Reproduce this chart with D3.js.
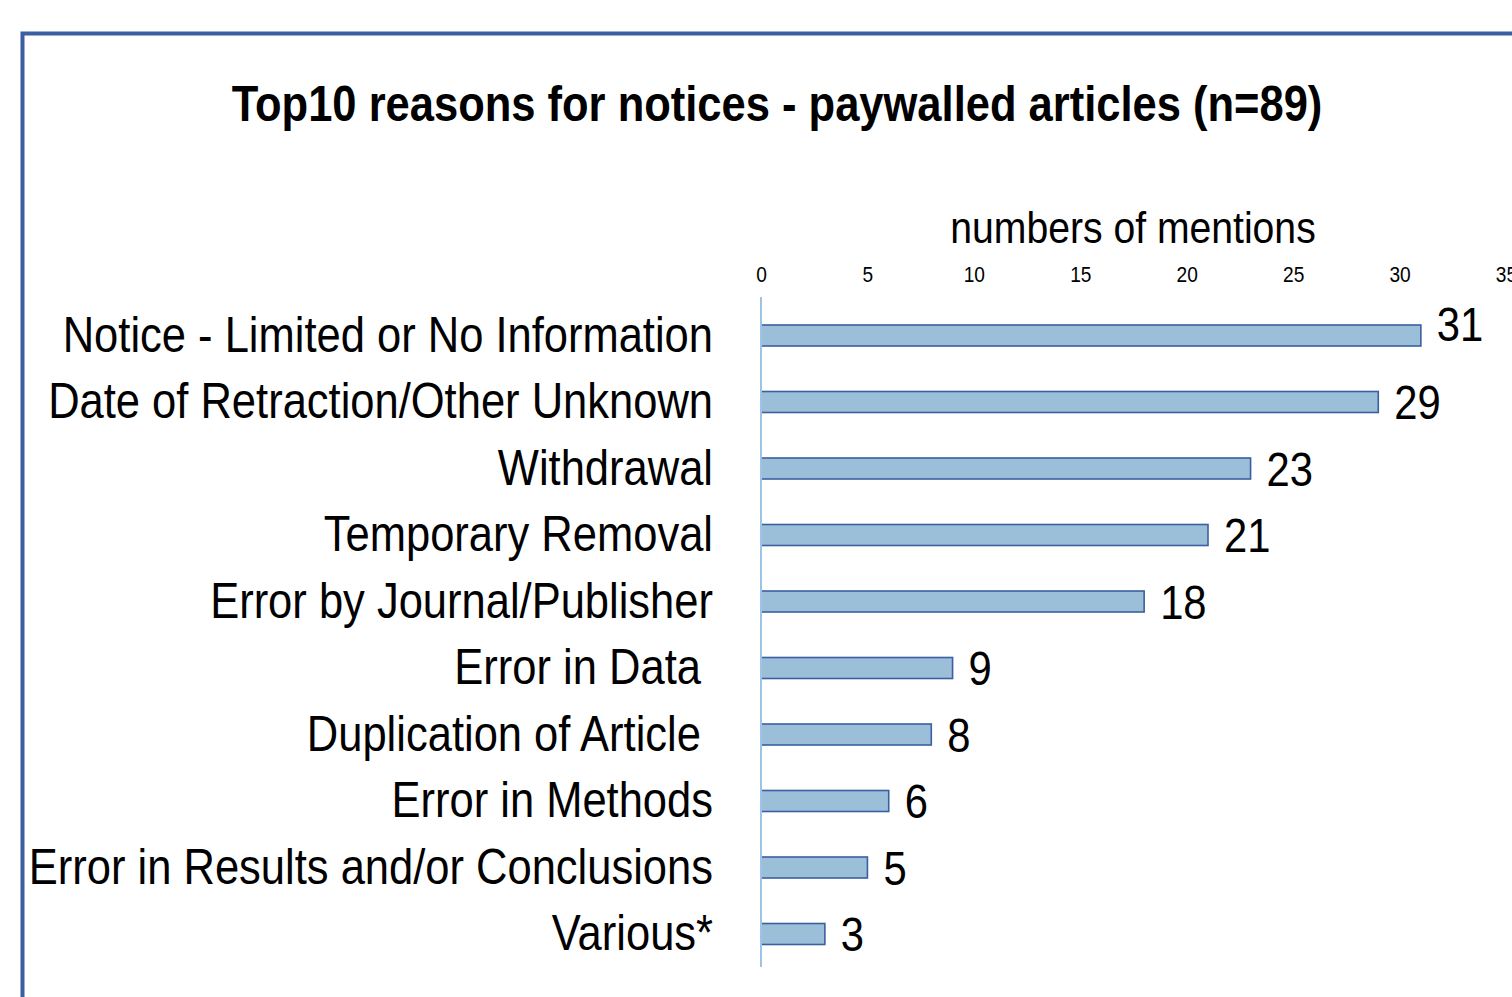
<!DOCTYPE html>
<html>
<head>
<meta charset="utf-8">
<script src="https://cdn.jsdelivr.net/npm/d3@7"></script>
<style>
  body { margin: 0; background: #fff; }
  text { font-family: "Liberation Sans", Arial, sans-serif; }
</style>
</head>
<body>
<div id="vis"></div>
<script>
// data
const reasons = [
  "Notice - Limited or No Information",
  "Date of Retraction/Other Unknown",
  "Withdrawal",
  "Temporary Removal",
  "Error by Journal/Publisher",
  "Error in Data ",
  "Duplication of Article ",
  "Error in Methods",
  "Error in Results and/or Conclusions",
  "Various*"
];
const mentions = [31, 29, 23, 21, 18, 9, 8, 6, 5, 3];
const tickValues = [0, 5, 10, 15, 20, 25, 30, 35];

const data = reasons.map((r, i) => ({ reason: r, value: mentions[i] }));

const W = 1512, H = 997;
// no narrow font installed, so squeeze Liberation Sans sideways
const narrow = 0.87;

const svg = d3.select("#vis")
  .append("svg")
    .attr("width", W)
    .attr("height", H);

// frame
svg.append("rect")
  .attr("x", 22.5).attr("y", 33.5)
  .attr("width", W + 20).attr("height", H + 20)
  .attr("fill", "none")
  .attr("stroke", "#3b5fa0")
  .attr("stroke-width", 4);

// title
svg.append("text")
  .attr("transform", `translate(777,121) scale(${narrow},1)`)
  .attr("text-anchor", "middle")
  .style("font-size", "50px")
  .style("font-weight", "bold")
  .text("Top10 reasons for notices - paywalled articles (n=89)");

// scales
const x = d3.scaleLinear()
  .domain([0, 35])
  .range([761, 1506]);

const y = d3.scalePoint()
  .domain(reasons)
  .range([302.25, 967.25])
  .padding(0.5);

const barH = 21;

// axis title
svg.append("text")
  .attr("transform", `translate(1133,243) scale(${narrow},1)`)
  .attr("text-anchor", "middle")
  .style("font-size", "45px")
  .text("numbers of mentions");

// top tick labels
const xAxis = svg.append("g")
  .attr("transform", "translate(0,282)")
  .call(d3.axisTop(x).tickValues(tickValues).tickSize(0).tickPadding(0));
xAxis.select(".domain").remove();
xAxis.selectAll("text")
  .attr("y", 0)
  .attr("dy", 0)
  .attr("transform", `scale(${narrow},1)`)
  .style("font-family", "\"Liberation Sans\", Arial, sans-serif")
  .style("font-size", "22px")
  .attr("fill", "#000");

// bars
svg.append("g")
  .selectAll("rect")
  .data(data)
  .join("rect")
    .attr("x", x(0))
    .attr("y", d => y(d.reason) - barH / 2)
    .attr("width", d => x(d.value) - x(0))
    .attr("height", barH)
    .attr("fill", "#9bbfd9")
    .attr("stroke", "#3b5fa0")
    .attr("stroke-width", 1.6);

// vertical axis line
svg.append("line")
  .attr("x1", x(0)).attr("x2", x(0))
  .attr("y1", 297).attr("y2", 967)
  .attr("stroke", "#9dc3e6")
  .attr("stroke-width", 2);

// category labels
svg.append("g")
  .selectAll("text")
  .data(data)
  .join("text")
    .attr("transform", d => `translate(713,${y(d.reason) + 16}) scale(${narrow},1)`)
    .attr("text-anchor", "end")
    .style("font-size", "50px")
    .style("white-space", "pre")
    .text(d => d.value === undefined ? "" : d.reason);

// value labels (the top one sits a bit higher in the original)
svg.append("g")
  .selectAll("text")
  .data(data)
  .join("text")
    .attr("transform", (d, i) => `translate(${x(d.value) + 16},${y(d.reason) + (i === 0 ? 5 : 17)}) scale(${narrow},1)`)
    .style("font-size", "48px")
    .text(d => d.value);
</script>
</body>
</html>
